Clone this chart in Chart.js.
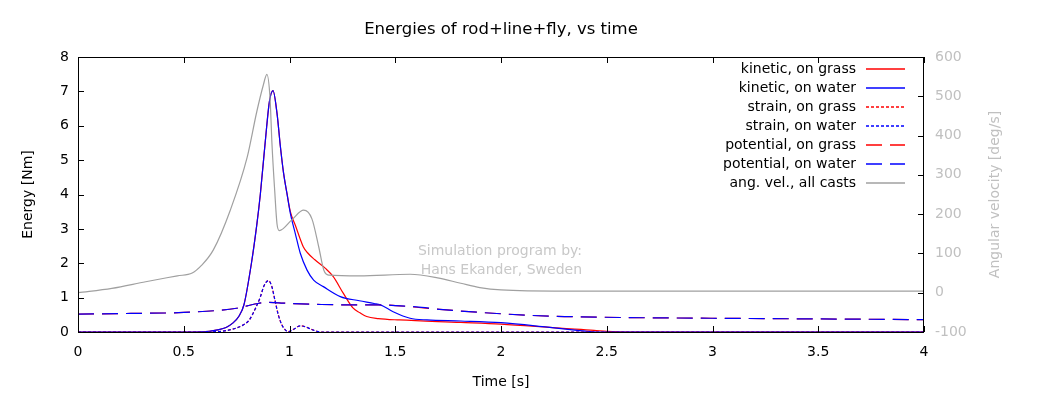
<!DOCTYPE html>
<html><head><meta charset="utf-8">
<script src="https://cdn.jsdelivr.net/npm/chart.js@4"></script>
<style>html,body{margin:0;padding:0;background:#fff}</style>
</head><body>
<canvas id="c" width="1039" height="394"></canvas>
<script>
// ---- data ----
const chartTitle = 'Energies of rod+line+fly, vs time';
const xTicks = [0, 0.5, 1, 1.5, 2, 2.5, 3, 3.5, 4];
const yTicks = [0, 1, 2, 3, 4, 5, 6, 7, 8];
const y2Ticks = [-100, 0, 100, 200, 300, 400, 500, 600];

const seriesLabels = ["kinetic, on grass", "kinetic, on water", "strain, on grass", "strain, on water",
  "potential, on grass", "potential, on water", "ang. vel., all casts"];

const kinGrassT = [0, 0.55, 0.62, 0.66, 0.70, 0.73, 0.76, 0.785, 0.82, 0.845, 0.862, 0.892, 0.905, 0.922, 0.941, 0.957, 0.972, 0.988, 1.004, 1.028, 1.051, 1.065, 1.083, 1.12, 1.17, 1.207, 1.254, 1.30, 1.333, 1.365, 1.42, 1.52, 1.81, 2.0, 2.28, 2.44, 2.5, 2.6, 4.0];
const kinGrass  = [0, 0, 0.02, 0.06, 0.13, 0.25, 0.45, 0.8, 2.0, 3.1, 4.0, 5.97, 6.7, 7.02, 6.36, 5.39, 4.62, 4.03, 3.5, 3.1, 2.7, 2.48, 2.32, 2.1, 1.85, 1.61, 1.13, 0.70, 0.56, 0.45, 0.39, 0.35, 0.28, 0.23, 0.11, 0.05, 0.02, 0, 0];

const kinWaterT = [0, 0.55, 0.62, 0.66, 0.70, 0.73, 0.76, 0.785, 0.82, 0.845, 0.862, 0.892, 0.905, 0.922, 0.941, 0.957, 0.972, 0.988, 1.004, 1.028, 1.051, 1.083, 1.114, 1.16, 1.24, 1.33, 1.40, 1.43, 1.49, 1.57, 1.65, 1.81, 2.0, 2.22, 2.36, 2.45, 4.0];
const kinWater  = [0, 0, 0.02, 0.06, 0.13, 0.25, 0.45, 0.8, 2.0, 3.1, 4.0, 5.97, 6.7, 7.02, 6.36, 5.39, 4.62, 4.03, 3.45, 2.85, 2.29, 1.80, 1.51, 1.32, 1.03, 0.91, 0.83, 0.79, 0.59, 0.40, 0.35, 0.32, 0.27, 0.14, 0.05, 0.0, 0];

const strainT      = [0, 0.6, 0.70, 0.75, 0.78, 0.81, 0.84, 0.861, 0.88, 0.90, 0.915, 0.931, 0.947, 0.963, 0.98, 0.995, 1.02, 1.05, 1.08, 1.11, 1.15, 4.0];
const strainGrass  = [0, 0, 0.04, 0.12, 0.2, 0.35, 0.7, 1.0, 1.35, 1.50, 1.35, 0.93, 0.5, 0.22, 0.06, 0.01, 0.08, 0.18, 0.14, 0.06, 0, 0];
const strainWater  = [0, 0, 0.04, 0.12, 0.2, 0.35, 0.7, 1.0, 1.35, 1.49, 1.35, 0.93, 0.5, 0.22, 0.06, 0.01, 0.08, 0.18, 0.14, 0.06, 0, 0];

const potT      = [0, 0.25, 0.5, 0.75, 0.80, 0.85, 0.9, 0.95, 1.0, 1.15, 1.3, 1.43, 1.5, 1.6, 1.71, 1.81, 2.0, 2.15, 2.3, 2.6, 3.0, 3.5, 4.0];
const potGrass  = [0.52, 0.54, 0.57, 0.69, 0.76, 0.83, 0.86, 0.85, 0.83, 0.80, 0.79, 0.79, 0.77, 0.72, 0.66, 0.61, 0.53, 0.48, 0.45, 0.42, 0.40, 0.38, 0.36];
const potWater  = [0.52, 0.54, 0.57, 0.69, 0.76, 0.83, 0.86, 0.85, 0.83, 0.80, 0.79, 0.79, 0.77, 0.73, 0.66, 0.61, 0.53, 0.48, 0.45, 0.42, 0.40, 0.38, 0.36];

const angT   = [0, 0.16, 0.32, 0.47, 0.54, 0.585, 0.64, 0.72, 0.80, 0.845, 0.876, 0.893, 0.908, 0.917, 0.93, 0.941, 0.952, 1.012, 1.067, 1.106, 1.138, 1.162, 1.185, 1.33, 1.57, 1.70, 1.81, 1.90, 2.0, 2.3, 4.0];
const angVel = [0, 11, 28, 43, 50, 70, 109, 210, 345, 460, 528, 556, 495, 380, 260, 175, 158, 186, 210, 188, 117, 58, 45, 43, 47, 38, 24, 13, 7, 4, 4];

// ---- build ----
const pts = (t, v) => t.map((x, i) => ({x: x, y: v[i]}));
const FONT = "'DejaVu Sans', Verdana, sans-serif";
Chart.defaults.font.family = FONT;
Chart.defaults.font.size = 14;
Chart.defaults.color = '#000';

const RED = '#ff0000', BLUE = '#0000ff', GRAY = '#a0a0a0';
const DOT = [3, 2], DASH = [16, 8];
function ds(i, data, color, dash, axis) {
  return {label: seriesLabels[i], data: data, borderColor: color, backgroundColor: color,
    borderWidth: 1.2, borderDash: dash, pointRadius: 0, fill: false,
    cubicInterpolationMode: 'monotone', yAxisID: axis, order: 6 - i};
}

const frame = {
  id: 'frame',
  beforeDatasetsDraw(chart) {
    const {ctx, chartArea: a} = chart;
    ctx.save();
    // title centred over the plot area
    ctx.fillStyle = '#000';
    ctx.font = '16.5px ' + FONT;
    ctx.textAlign = 'center';
    ctx.textBaseline = 'middle';
    ctx.fillText(chartTitle, (a.left + a.right) / 2, a.top - 27);
    // watermark
    ctx.fillStyle = '#c8c8c8';
    ctx.font = '14px ' + FONT;
    ctx.textAlign = 'right';
    ctx.fillText('Simulation program by:', a.left + 504, a.top + 194);
    ctx.fillText('Hans Ekander, Sweden', a.left + 504, a.top + 213);
    ctx.restore();
  },
  afterDatasetsDraw(chart) {
    const {ctx, chartArea: a, scales} = chart;
    ctx.save();
    // border
    ctx.strokeStyle = '#000';
    ctx.lineWidth = 1;
    ctx.strokeRect(Math.round(a.left) + 0.5, Math.round(a.top) + 0.5, Math.round(a.right - a.left) - 1, Math.round(a.bottom - a.top));
    const L = 6;
    ctx.beginPath();
    xTicks.forEach(v => {
      const px = Math.round(scales.x.getPixelForValue(v)) + 0.5;
      ctx.moveTo(px, a.bottom); ctx.lineTo(px, a.bottom - L);
      ctx.moveTo(px, a.top); ctx.lineTo(px, a.top + L);
    });
    yTicks.forEach(v => {
      const py = Math.round(scales.y.getPixelForValue(v)) + 0.5;
      ctx.moveTo(a.left, py); ctx.lineTo(a.left + L, py);
    });
    y2Ticks.forEach(v => {
      const py = Math.round(scales.y2.getPixelForValue(v)) + 0.5;
      ctx.moveTo(a.right, py); ctx.lineTo(a.right - L, py);
    });
    ctx.stroke();
    // legend (text right-aligned, sample on the right)
    ctx.font = '14px ' + FONT;
    ctx.textAlign = 'right';
    ctx.textBaseline = 'middle';
    chart.data.datasets.forEach((d, i) => {
      const y = a.top + 12 + i * 19;
      ctx.fillStyle = '#000';
      ctx.fillText(d.label, a.right - 68, y);
      ctx.strokeStyle = d.borderColor;
      ctx.lineWidth = 1.3;
      ctx.setLineDash(d.borderDash || []);
      ctx.beginPath();
      ctx.moveTo(a.right - 58, Math.round(y));
      ctx.lineTo(a.right - 19, Math.round(y));
      ctx.stroke();
    });
    ctx.setLineDash([]);
    // right axis title (reads bottom to top)
    ctx.fillStyle = '#c0c0c0';
    ctx.textAlign = 'center';
    ctx.translate(995, (a.top + a.bottom) / 2);
    ctx.rotate(-Math.PI / 2);
    ctx.fillText('Angular velocity [deg/s]', 0, 0);
    ctx.restore();
  }
};

new Chart(document.getElementById('c'), {
  type: 'line',
  data: {
    datasets: [
      ds(0, pts(kinGrassT, kinGrass), RED, [], 'y'),
      ds(1, pts(kinWaterT, kinWater), BLUE, [], 'y'),
      ds(2, pts(strainT, strainGrass), RED, DOT, 'y'),
      ds(3, pts(strainT, strainWater), BLUE, DOT, 'y'),
      ds(4, pts(potT, potGrass), RED, DASH, 'y'),
      ds(5, pts(potT, potWater), BLUE, DASH, 'y'),
      ds(6, pts(angT, angVel), GRAY, [], 'y2')
    ]
  },
  options: {
    responsive: false,
    animation: false,
    devicePixelRatio: 1,
    layout: {padding: {top: 57, left: 0, right: 0, bottom: 0}},
    plugins: {
      legend: {display: false},
      tooltip: {enabled: false},
      title: {display: false}
    },
    scales: {
      x: {type: 'linear', min: 0, max: 4,
        afterBuildTicks: s => { s.ticks = xTicks.map(v => ({value: v})); },
        afterFit: s => { s.height = 62; },
        grid: {display: false, drawTicks: false}, border: {display: false},
        ticks: {padding: 12, color: '#000', maxRotation: 0, autoSkip: false, callback: v => String(v)},
        title: {display: true, text: 'Time [s]', color: '#000', padding: {top: 0, bottom: 3}}},
      y: {type: 'linear', position: 'left', min: 0, max: 8,
        afterBuildTicks: s => { s.ticks = yTicks.map(v => ({value: v})); },
        afterFit: s => { s.width = 78; },
        grid: {display: false, drawTicks: false}, border: {display: false},
        ticks: {padding: 9, color: '#000'},
        title: {display: true, text: 'Energy [Nm]', color: '#000', padding: {top: 20, bottom: 0}}},
      y2: {type: 'linear', position: 'right', min: -100, max: 600,
        afterBuildTicks: s => { s.ticks = y2Ticks.map(v => ({value: v})); },
        afterFit: s => { s.width = 115; },
        grid: {display: false, drawTicks: false}, border: {display: false},
        ticks: {padding: 11, color: '#c0c0c0'}}
    }
  },
  plugins: [frame]
});
</script>
</body></html>
